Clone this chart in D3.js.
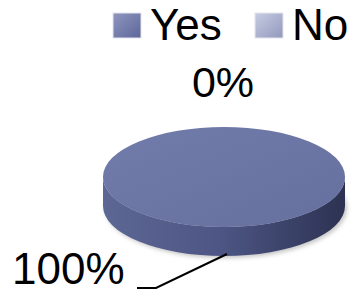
<!DOCTYPE html>
<html>
<head>
<meta charset="utf-8">
<script src="https://cdn.jsdelivr.net/npm/d3@7"></script>
<style>
  body { margin: 0; background: #fff; }
  text { font-family: "Liberation Sans", Arial, sans-serif; fill: #000; }
</style>
</head>
<body>
<script>
// data
var categories = ['Yes', 'No'];
var values = [100, 0];
var labels = ['100%', '0%'];

var width = 357, height = 292;
var cx = 224, cy = 177, rx = 121, ry = 50, depth = 29;

var svg = d3.select('body').append('svg')
    .attr('width', width)
    .attr('height', height);

var defs = svg.append('defs');

// gradients
var gTop = defs.append('linearGradient').attr('id', 'gtop')
    .attr('x1', 0).attr('y1', 0).attr('x2', 1).attr('y2', 1);
gTop.append('stop').attr('offset', '0%').attr('stop-color', '#727cab');
gTop.append('stop').attr('offset', '100%').attr('stop-color', '#66709f');

var gSide = defs.append('linearGradient').attr('id', 'gside')
    .attr('x1', 0).attr('y1', 0).attr('x2', 1).attr('y2', 0);
gSide.append('stop').attr('offset', '0%').attr('stop-color', '#5d6794');
gSide.append('stop').attr('offset', '50%').attr('stop-color', '#4c5583');
gSide.append('stop').attr('offset', '100%').attr('stop-color', '#2d3252');

var gYes = defs.append('linearGradient').attr('id', 'gyes')
    .attr('x1', 0).attr('y1', 0).attr('x2', 1).attr('y2', 1);
gYes.append('stop').attr('offset', '0%').attr('stop-color', '#8f97c0');
gYes.append('stop').attr('offset', '100%').attr('stop-color', '#5c6698');

var gNo = defs.append('linearGradient').attr('id', 'gno')
    .attr('x1', 0).attr('y1', 0).attr('x2', 1).attr('y2', 1);
gNo.append('stop').attr('offset', '0%').attr('stop-color', '#c8cde3');
gNo.append('stop').attr('offset', '100%').attr('stop-color', '#9198bb');

var sideFill = ['url(#gside)', '#8d94b8'];
var topFill = ['url(#gtop)', '#aab0cc'];
var legendFill = ['url(#gyes)', 'url(#gno)'];

var blur = defs.append('filter').attr('id', 'shadow')
    .attr('x', '-20%').attr('y', '-20%').attr('width', '140%').attr('height', '140%');
blur.append('feGaussianBlur').attr('stdDeviation', 2);

// pie layout
var pie = d3.pie().sort(null).value(d => d);
var slices = pie(values);

function pt(a, dy) {
  return [cx + Math.sin(a) * rx, cy - Math.cos(a) * ry + (dy || 0)];
}

function sidePath(d) {
  var a1 = Math.max(d.startAngle, Math.PI / 2);
  var a2 = Math.min(d.endAngle, 3 * Math.PI / 2);
  if (a2 <= a1) return null;
  var p1 = pt(a1), p2 = pt(a2), p3 = pt(a2, depth), p4 = pt(a1, depth);
  var big = (a2 - a1) > Math.PI ? 1 : 0;
  return 'M' + p1 + ' A' + rx + ',' + ry + ' 0 ' + big + ' 1 ' + p2 +
         ' L' + p3 + ' A' + rx + ',' + ry + ' 0 ' + big + ' 0 ' + p4 + ' Z';
}

// soft shadow
svg.append('ellipse')
    .attr('cx', cx + 2).attr('cy', cy + depth + 2)
    .attr('rx', rx).attr('ry', ry)
    .attr('fill', '#c4c4c4')
    .attr('filter', 'url(#shadow)');

// sides
svg.selectAll('.side').data(slices).enter()
  .filter(d => d.endAngle > d.startAngle)
  .append('path')
    .attr('class', 'side')
    .attr('d', sidePath)
    .attr('fill', (d, i) => sideFill[i]);

// tops
var arc = d3.arc().innerRadius(0).outerRadius(rx);
svg.append('g')
    .attr('transform', 'translate(' + cx + ',' + cy + ') scale(1,' + (ry / rx) + ')')
  .selectAll('path').data(slices).enter()
  .filter(d => d.endAngle > d.startAngle)
  .append('path')
    .attr('d', arc)
    .attr('fill', (d, i) => topFill[i]);

// labels
var mid = slices.map(d => (d.startAngle + d.endAngle) / 2);

// 100% label with leader line
var anchor = pt(mid[0], depth - 2);
svg.append('polyline')
    .attr('points', [[anchor[0] + 3, anchor[1]], [156, 288], [137, 288]].join(' '))
    .attr('fill', 'none')
    .attr('stroke', '#000')
    .attr('stroke-width', 2);
svg.append('text').text(labels[0])
    .attr('x', 12).attr('y', 284)
    .style('font-size', '44px');

// 0% label above the top
var top0 = pt(mid[1]);
svg.append('text').text(labels[1])
    .attr('x', top0[0] - 1).attr('y', 97)
    .attr('text-anchor', 'middle')
    .style('font-size', '43px');

// legend
var legendX = [113, 255];
var legend = svg.selectAll('.legend').data(categories).enter()
  .append('g').attr('class', 'legend');
legend.append('rect')
    .attr('x', (d, i) => legendX[i]).attr('y', 13)
    .attr('width', 28).attr('height', 25)
    .attr('fill', (d, i) => legendFill[i])
    .attr('stroke', '#e4e6ef').attr('stroke-width', 1);
legend.append('text').text(d => d)
    .attr('x', (d, i) => legendX[i] + 37).attr('y', 40)
    .style('font-size', '44px');
</script>
</body>
</html>
